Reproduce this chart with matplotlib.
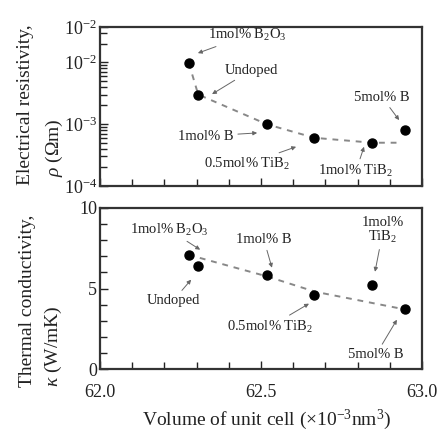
"""Resistivity and thermal conductivity vs unit cell volume."""

import matplotlib

matplotlib.use("Agg")
import matplotlib.pyplot as plt
from matplotlib.ticker import FixedLocator, MultipleLocator, LogLocator, NullFormatter

plt.rcParams["font.family"] = ["Liberation Serif", "DejaVu Serif"]
plt.rcParams["mathtext.fontset"] = "custom"
plt.rcParams["mathtext.rm"] = "Liberation Serif"
plt.rcParams["mathtext.it"] = "Liberation Serif:italic"

# Samples (order: B2O3, undoped, 1mol% B, 0.5mol% TiB2, 1mol% TiB2, 5mol% B)
volume = [62.276, 62.305, 62.519, 62.666, 62.846, 62.947]
resistivity = [9.6e-3, 3.0e-3, 9.9e-4, 6.0e-4, 5.0e-4, 8.0e-4]
conductivity = [7.1, 6.37, 5.81, 4.61, 5.24, 3.74]

# Hand-drawn trend lines
trend_rho_x = [62.276, 62.305, 62.519, 62.666, 62.846, 62.93]
trend_rho = [9.6e-3, 3.0e-3, 9.9e-4, 6.0e-4, 5.0e-4, 5.0e-4]
trend_k_x = [62.31, 62.519, 62.668, 62.947]
trend_k = [6.9, 5.75, 4.8, 3.7]

xtick_labels = ["62.0", "62.5", "63.0"]
rho_tick_labels = ["10$^{-4}$", "10$^{-3}$", "10$^{-2}$", "10$^{-2}$"]

W, H = 447, 432
fig = plt.figure(figsize=(W / 100, H / 100), dpi=100)
ax1 = fig.add_axes([100 / W, 1 - 186 / H, 322 / W, 159 / H])
ax2 = fig.add_axes([100 / W, 1 - 369 / H, 322 / W, 161 / H])

text_color = "#222222"
arrow = dict(arrowstyle="-|>", color="#666666", lw=0.7, mutation_scale=6,
             shrinkA=1, shrinkB=0)
afs = 10.5

# --- top: resistivity ---
ax1.plot(trend_rho_x, trend_rho, ls=(0, (3, 3)), color="#888888", lw=1.4, zorder=1)
ax1.plot(volume, resistivity, "o", color="black", ms=6.5, zorder=3)
ax1.set_yscale("log")
ax1.set_ylim(1e-4, 3.7e-2)
ax1.yaxis.set_major_locator(FixedLocator([1e-4, 1e-3, 1e-2, 3.7e-2]))
ax1.set_yticklabels(rho_tick_labels)
ax1.yaxis.set_minor_locator(LogLocator(base=10, subs=range(2, 10)))
ax1.yaxis.set_minor_formatter(NullFormatter())

top_notes = [
    ("1mol% B$_2$O$_3$", (62.304, 1.40e-2), (62.457, 2.72e-2)),
    ("Undoped", (62.348, 3.05e-3), (62.469, 7.4e-3)),
    ("1mol% B", (62.488, 7.2e-4), (62.329, 6.4e-4)),
    ("0.5mol% TiB$_2$", (62.609, 4.3e-4), (62.457, 2.26e-4)),
    ("1mol% TiB$_2$", (62.820, 4.3e-4), (62.795, 1.75e-4)),
    ("5mol% B", (62.929, 1.16e-3), (62.876, 2.72e-3)),
]
for label, tip, pos in top_notes:
    ax1.annotate(label, xy=tip, xytext=pos, ha="center", va="center",
                 fontsize=afs, color=text_color, arrowprops=arrow)

# --- bottom: thermal conductivity ---
ax2.plot(trend_k_x, trend_k, ls=(0, (3, 3)), color="#888888", lw=1.4, zorder=1)
ax2.plot(volume, conductivity, "o", color="black", ms=6.5, zorder=3)
ax2.set_ylim(0, 10)
ax2.yaxis.set_major_locator(MultipleLocator(5))
ax2.yaxis.set_minor_locator(MultipleLocator(1))

bottom_notes = [
    ("1mol% B$_2$O$_3$", (62.311, 7.41), (62.214, 8.65)),
    ("Undoped", (62.283, 5.55), (62.227, 4.24)),
    ("1mol% B", (62.534, 6.29), (62.509, 8.03)),
    ("1mol%\nTiB$_2$", (62.854, 6.04), (62.879, 8.58)),
    ("0.5mol% TiB$_2$", (62.649, 4.06), (62.528, 2.63)),
    ("5mol% B", (62.922, 3.06), (62.857, 0.89)),
]
for label, tip, pos in bottom_notes:
    ax2.annotate(label, xy=tip, xytext=pos, ha="center", va="center",
                 fontsize=afs, color=text_color, arrowprops=arrow,
                 linespacing=1.0)

for ax in (ax1, ax2):
    ax.set_xlim(62.0, 63.0)
    ax.xaxis.set_major_locator(FixedLocator([62.0, 62.5, 63.0]))
    ax.xaxis.set_minor_locator(MultipleLocator(0.1))
    ax.tick_params(which="both", direction="in", top=False, right=False,
                   labelsize=13, colors=text_color, width=1.0)
    ax.tick_params(which="major", length=6)
    ax.tick_params(which="minor", length=5)
    ax.tick_params(axis="y", pad=2)
    ax.tick_params(axis="x", pad=11)
    for s in ax.spines.values():
        s.set_linewidth(1.6)
        s.set_color("#333333")

ax1.tick_params(axis="x", labelbottom=False)
ax2.set_xticklabels(xtick_labels)

# y labels (two lines each, bottom aligned)
lab = dict(rotation=90, rotation_mode="anchor", ha="left", va="center",
           fontsize=14, color=text_color)
fig.text(25 / W, 1 - 185 / H, "Electrical resistivity,", **lab)
fig.text(54 / W, 1 - 177 / H, "$\\it{\\rho}$ (Ωm)", **lab)
fig.text(28 / W, 1 - 387 / H, "Thermal conductivity,", **lab)
fig.text(53 / W, 1 - 387 / H, "$\\it{\\kappa}$ (W/mK)", **lab)

fig.text(267 / W, 1 - 420 / H, "Volume of unit cell (×10$^{-3}$nm$^{3}$)",
         ha="center", va="center", fontsize=14, color=text_color)

fig.savefig("out.png", dpi=100)
